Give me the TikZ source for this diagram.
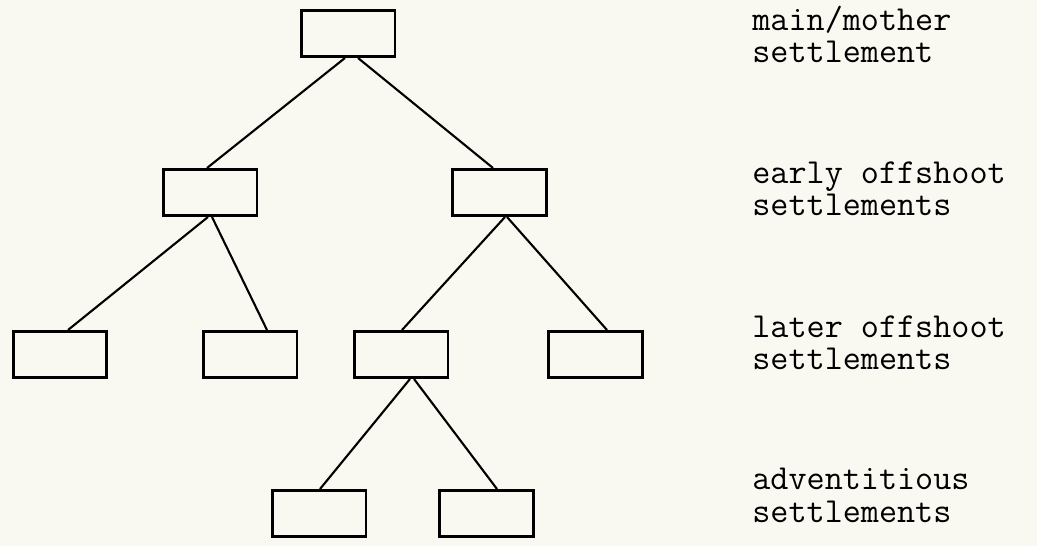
\documentclass[tikz,border=0pt]{standalone}
\usetikzlibrary{calc}
\definecolor{paper}{RGB}{250,249,241}

\begin{document}
\begin{tikzpicture}[x=0.02cm,y=-0.02cm,
    settle/.style={draw,line width=1.7pt,minimum width=1.88cm,minimum height=0.92cm,inner sep=0pt},
    branch/.style={line width=1.2pt},
    level/.style={anchor=base west,align=left,inner sep=0pt,font=\ttfamily\fontsize{20}{18.5}\selectfont}]
    \fill[paper] (0,0) rectangle (1037,546);
    \useasboundingbox (0,0) rectangle (1037,546);
    \node[settle] (main) at (348,33.5) {};
    \node[settle] (earlyA) at (210,192.5) {};
    \node[settle] (earlyB) at (499.5,192.5) {};
    \node[settle] (laterA) at (60,354.5) {};
    \node[settle] (laterB) at (250,354.5) {};
    \node[settle] (laterC) at (401,354.5) {};
    \node[settle] (laterD) at (595.5,354.5) {};
    \node[settle] (adventA) at (319,513.5) {};
    \node[settle] (adventB) at (486.5,513.5) {};
    \draw[branch] ($(main.south)+(-3,0)$) -- ($(earlyA.north)+(-3,0)$);
    \draw[branch] ($(main.south)+(10,0)$) -- ($(earlyB.north)+(-6.5,0)$);
    \draw[branch] ($(earlyA.south)+(-2,0)$) -- ($(laterA.north)+(8,0)$);
    \draw[branch] ($(earlyA.south)+(2,0)$) -- ($(laterB.north)+(17,0)$);
    \draw[branch] ($(earlyB.south)+(5.5,0)$) -- ($(laterC.north)+(1,0)$);
    \draw[branch] ($(earlyB.south)+(7.5,0)$) -- ($(laterD.north)+(11.5,0)$);
    \draw[branch] ($(laterC.south)+(9,0)$) -- ($(adventA.north)+(1,0)$);
    \draw[branch] ($(laterC.south)+(13,0)$) -- ($(adventB.north)+(10.5,0)$);
    \node[level] (mainlabel) at (752,63) {main/mother\\settlement};
    \node[level] (earlylabel) at (752,216) {early offshoot\\settlements};
    \node[level] (laterlabel) at (752,370) {later offshoot\\settlements};
    \node[level] (adventlabel) at (752,522) {adventitious\\settlements};
\end{tikzpicture}
\end{document}
